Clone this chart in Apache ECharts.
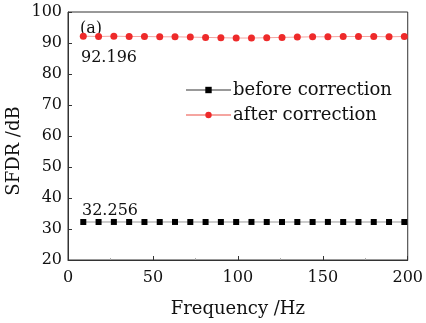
<!DOCTYPE html>
<html><head><meta charset="utf-8">
<script src="https://cdn.jsdelivr.net/npm/echarts@6/dist/echarts.min.js"></script>
<style>html,body{margin:0;padding:0;background:#fff}#c{width:426px;height:323px}</style>
</head><body><div id="c"></div>
<script>
const freq = [9,18,27,36,45,54,63,72,81,90,99,108,117,126,135,144,153,162,171,180,189,198];
const before = [32.26,32.25,32.27,32.26,32.25,32.26,32.27,32.26,32.25,32.26,32.26,32.27,32.26,32.25,32.26,32.26,32.27,32.26,32.25,32.26,32.26,32.26];
const after = [92.2,92.1,92.2,92.1,92.1,92.0,92.0,91.9,91.8,91.7,91.6,91.6,91.7,91.8,91.9,92.0,92.0,92.1,92.1,92.1,92.0,92.1];
const xTicks = [0,50,100,150,200];
const yTicks = [20,30,40,50,60,70,80,90,100];
const font = 'DejaVu Serif';
const chart = echarts.init(document.getElementById('c'));
chart.setOption({
  animation:false,
  grid:{left:68,right:15,top:12,bottom:57,show:true,borderColor:'#333',borderWidth:1},
  xAxis:{type:'value',min:0,max:200,interval:50,
    name:'Frequency /Hz',nameLocation:'middle',nameGap:40,
    nameTextStyle:{fontFamily:font,fontSize:18,color:'#111'},
    axisLine:{lineStyle:{color:'#333'}},
    axisTick:{inside:true,length:4,lineStyle:{color:'#333'}},
    minorTick:{show:true,splitNumber:2,length:2,lineStyle:{color:'#aaa'}},
    axisLabel:{fontFamily:font,fontSize:16,color:'#111',margin:10},
    splitLine:{show:false},minorSplitLine:{show:false}},
  yAxis:{type:'value',min:20,max:100,interval:10,
    axisLine:{lineStyle:{color:'#333'}},
    axisTick:{inside:true,length:4,lineStyle:{color:'#333'}},
    axisLabel:{fontFamily:font,fontSize:16,color:'#111',margin:6},
    splitLine:{show:false}},
  legend:{left:180,top:76,orient:'vertical',itemWidth:45,itemHeight:8,itemGap:7,
    textStyle:{fontFamily:font,fontSize:18,lineHeight:18,color:'#111',padding:[0,0,0,-3]},
    data:['before correction','after correction']},
  graphic:[
    {type:'text',x:14.5,y:151,rotation:Math.PI/2,
     style:{text:'SFDR /dB',font:'18px "DejaVu Serif"',fill:'#111',align:'center',verticalAlign:'middle'}},
    {type:'text',left:80,top:21,style:{text:'(a)',font:'16px "DejaVu Serif"',fill:'#111'}},
    {type:'text',left:81,top:50,style:{text:'92.196',font:'16px "DejaVu Serif"',fill:'#111'}},
    {type:'text',left:82,top:203,style:{text:'32.256',font:'16px "DejaVu Serif"',fill:'#111'}}
  ],
  series:[
    {name:'before correction',type:'line',data:freq.map((f,i)=>[f,before[i]]),
     symbol:'rect',symbolSize:6,itemStyle:{color:'#000'},lineStyle:{color:'#999',width:1}},
    {name:'after correction',type:'line',data:freq.map((f,i)=>[f,after[i]]),
     symbol:'circle',symbolSize:7,itemStyle:{color:'#ee2a2a'},lineStyle:{color:'#f5a5a0',width:1}}
  ]
});
</script></body></html>
